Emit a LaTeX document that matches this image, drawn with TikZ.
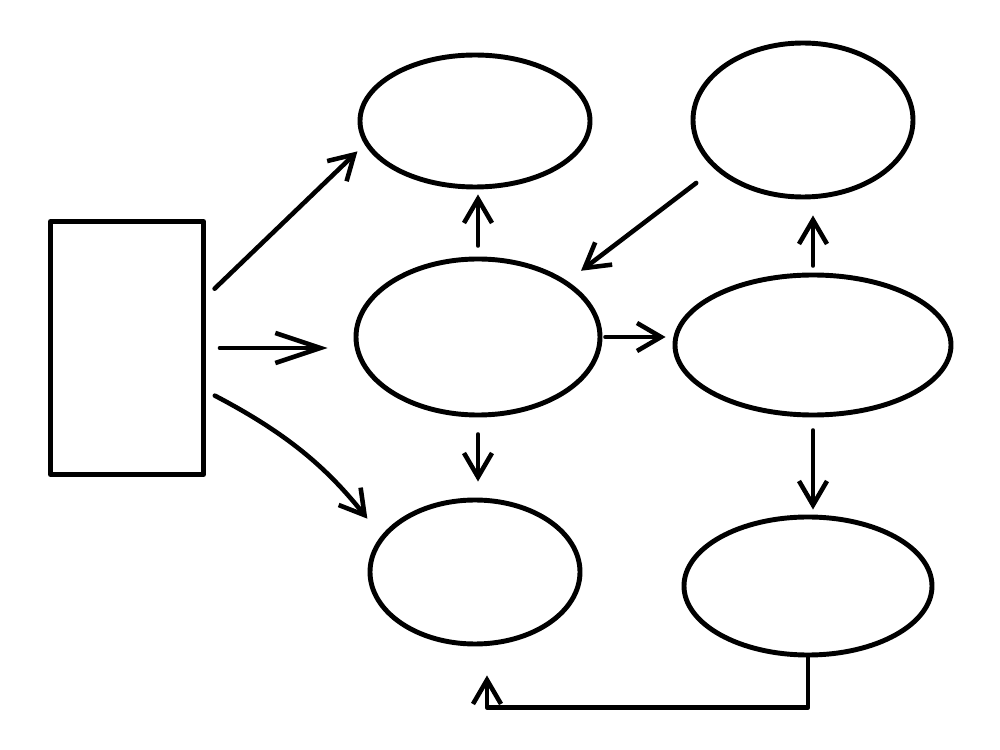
\documentclass[tikz,border=0pt]{standalone}
\usetikzlibrary{arrows.meta,shapes.geometric}
\begin{document}
\begin{tikzpicture}[
    x=0.1mm, y=-0.1mm,
    line cap=round,
    line join=round,
    block/.style={draw, line width=1.4pt, rectangle, inner sep=0pt,
                  minimum width=15.3mm, minimum height=25.3mm},
    oval/.style={draw, line width=1.4pt, ellipse, inner sep=0pt},
    link/.style={line width=1.3pt, -{Straight Barb[length=2.4mm,width=2.8mm]}},
    longlink/.style={link, -{Straight Barb[length=4.5mm,width=3mm]}}
]

\useasboundingbox (0,0) rectangle (1000,750);

% -------------------------------------------------
% Блоки
% Слева: прямоугольник src
% Овалы: top, topR, mid, midR, bot, botR
% -------------------------------------------------

\node[block] (src) at (127,348) {};

\node[oval, minimum width=23mm,   minimum height=13.2mm] (top)  at (475,121) {};  % верхний средний
\node[oval, minimum width=22mm,   minimum height=15.4mm] (topR) at (803,120) {};  % верхний правый
\node[oval, minimum width=24.4mm, minimum height=15.6mm] (mid)  at (478,337) {};  % центральный
\node[oval, minimum width=27.6mm, minimum height=14mm]   (midR) at (813,345) {};  % средний правый
\node[oval, minimum width=21mm,   minimum height=14.4mm] (bot)  at (475,572) {};  % нижний средний
\node[oval, minimum width=24.8mm, minimum height=13.8mm] (botR) at (808,586) {};  % нижний правый

% -------------------------------------------------
% Стрелки от прямоугольника
% -------------------------------------------------

\draw[link, shorten <=1.2mm, shorten >=1mm] ([yshift=5.1mm]src.east) -- (top.192);
\draw[longlink, shorten <=1.4mm, shorten >=2.6mm] (src.east) -- (src.east -| mid.west);
\draw[link, shorten <=1mm, shorten >=2.2mm] ([yshift=-4.3mm]src.east) to[bend left=12] (bot.159);

% -------------------------------------------------
% Стрелки между овалами
% -------------------------------------------------

\draw[link, shorten <=1.1mm, shorten >=0.5mm] (mid.north) -- (mid.north |- top.south);
\draw[link, shorten <=2.3mm, shorten >=1.7mm] (topR.209) -- (mid.32);
\draw[link, shorten <=0.3mm, shorten >=0.7mm] (mid.east) -- (mid.east -| midR.west);
\draw[link, shorten <=0.7mm, shorten >=1.6mm] (midR.north) -- (midR.north |- topR.south);
\draw[link, shorten <=1.7mm, shorten >=1.6mm] (mid.south) -- (mid.south |- bot.north);
\draw[link, shorten <=1.3mm, shorten >=0.5mm] (midR.south) -- (midR.south |- botR.north);

% -------------------------------------------------
% Обратная связь снизу
% -------------------------------------------------

\draw[link, shorten >=2.9mm] (botR.south) -- ++(0,-5mm) -| ([xshift=1.2mm]bot.south);
\end{tikzpicture}
\end{document}
